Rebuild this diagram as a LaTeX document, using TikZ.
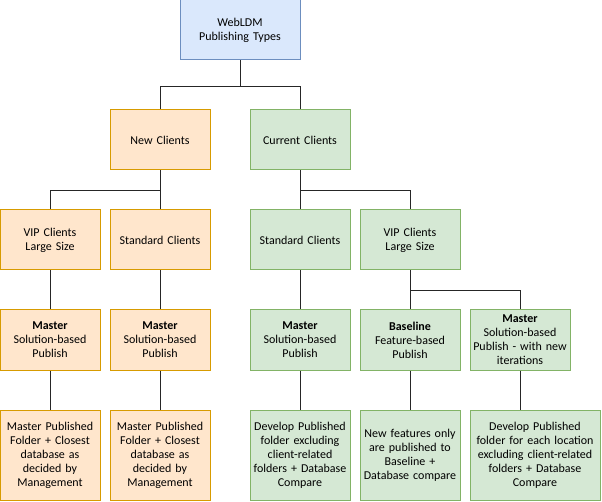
\documentclass[tikz,border=0pt]{standalone}
\usepackage{fontspec}
\setmainfont{Carlito}
\usetikzlibrary{positioning, calc}
\definecolor{topfill}{HTML}{DAE8FC}
\definecolor{topline}{HTML}{6C8EBF}
\definecolor{newfill}{HTML}{FFE6CC}
\definecolor{newline}{HTML}{D79B00}
\definecolor{curfill}{HTML}{D5E8D4}
\definecolor{curline}{HTML}{82B366}
\tikzset{
	box/.style={
		rectangle, line width=1pt,
		minimum width=100pt, minimum height=60pt,
		text width=98pt, align=center, inner sep=1pt,
		font=\fontsize{12}{14}\selectfont
	},
	topbox/.style={box, draw=topline, fill=topfill, minimum width=120pt},
	newbox/.style={box, draw=newline, fill=newfill},
	curbox/.style={box, draw=curline, fill=curfill},
	tall/.style={minimum height=90pt},
	link/.style={line width=1pt, black!85}
}

\begin{document}
\begin{tikzpicture}[x=1pt,y=-1pt]

	\useasboundingbox (0,0) rectangle (602,502);

	% level 0 and 1
	\node[topbox] (web) at (240,30) {WebLDM\\Publishing Types};
	\node[newbox] (new) at (160,140) {New Clients};
	\node[curbox] (cur) at (300,140) {Current Clients};

	% level 2
	\node[newbox] (newvip) at (50,240)  {VIP Clients\\Large Size};
	\node[newbox] (newstd) at (160,240) {Standard Clients};
	\node[curbox] (curstd) at (300,240) {Standard Clients};
	\node[curbox] (curvip) at (410,240) {VIP Clients\\Large Size};

	% level 3
	\node[newbox] (newvipm) at (50,340)  {\textbf{Master}\\Solution-based\\Publish};
	\node[newbox] (newstdm) at (160,340) {\textbf{Master}\\Solution-based\\Publish};
	\node[curbox] (curstdm) at (300,340) {\textbf{Master}\\Solution-based\\Publish};
	\node[curbox] (curvipb) at (410,340) {\textbf{Baseline}\\Feature-based\\Publish};
	\node[curbox] (curvipm) at (520,340) {\textbf{Master}\\Solution-based\\Publish - with new\\iterations};

	% level 4
	\node[newbox,tall] (newvipd) at (50,455)  {Master Published\\Folder + Closest\\database as\\decided by\\Management};
	\node[newbox,tall] (newstdd) at (160,455) {Master Published\\Folder + Closest\\database as\\decided by\\Management};
	\node[curbox,tall] (curstdd) at (300,455) {Develop Published\\folder excluding\\client-related\\folders + Database\\Compare};
	\node[curbox,tall] (curvipbd) at (410,455) {New features only\\are published to\\Baseline +\\Database compare};
	\node[curbox,tall,minimum width=130pt,text width=128pt] (curvipmd) at (535,455) {Develop Published\\folder for each location\\excluding client-related\\folders + Database\\Compare};

	% connectors
	\draw[link] (web.south) -- ++(0,26) coordinate (jweb) -| (new.north);
	\draw[link] (jweb) -| (cur.north);
	\draw[link] (new.south) -- ++(0,20) coordinate (jnew) -| (newvip.north);
	\draw[link] (jnew) -- (newstd.north);
	\draw[link] (cur.south) -- ++(0,20) coordinate (jcur) -| (curvip.north);
	\draw[link] (jcur) -- (curstd.north);
	\draw[link] (newvip.south) -- (newvipm.north);
	\draw[link] (newstd.south) -- (newstdm.north);
	\draw[link] (curstd.south) -- (curstdm.north);
	\draw[link] (curvip.south) -- ++(0,20) coordinate (jvip) -| (curvipm.north);
	\draw[link] (jvip) -- (curvipb.north);
	\draw[link] (newvipm.south) -- (newvipd.north);
	\draw[link] (newstdm.south) -- (newstdd.north);
	\draw[link] (curstdm.south) -- (curstdd.north);
	\draw[link] (curvipb.south) -- (curvipbd.north);
	\draw[link] (curvipm.south) -- (curvipm.south |- curvipmd.north);

\end{tikzpicture}
\end{document}
